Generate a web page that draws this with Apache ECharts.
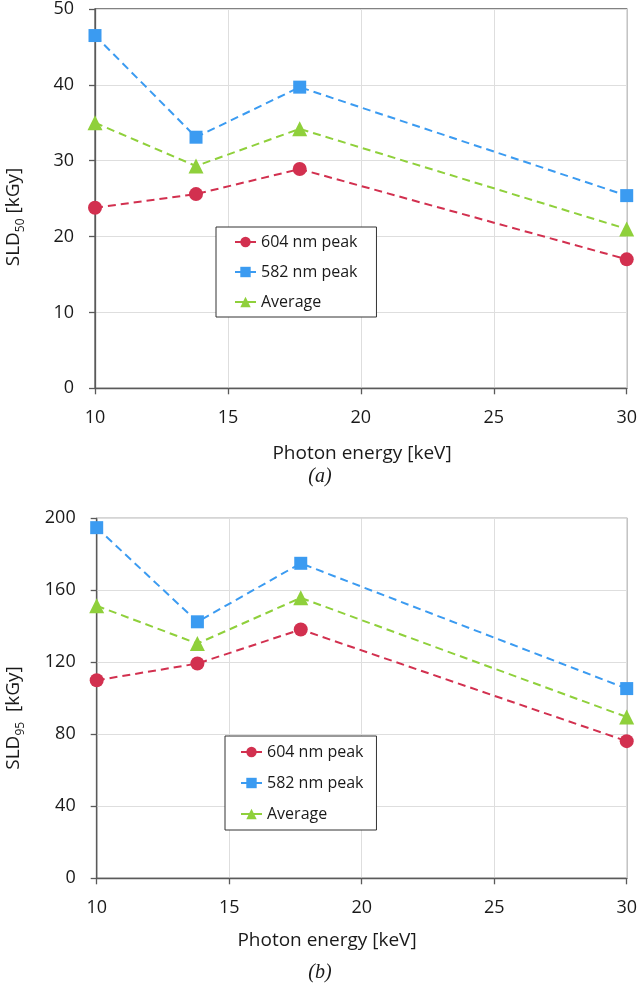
<!DOCTYPE html>
<html>
<head>
<meta charset="utf-8">
<script src="https://cdn.jsdelivr.net/npm/echarts@6/dist/echarts.min.js"></script>
<style>
  html, body { margin: 0; padding: 0; background: #ffffff; }
  #chart { width: 640px; height: 1008px; }
</style>
</head>
<body>
<div id="chart"></div>
<script>
// ---- data ----
const energies = [10, 13.8, 17.7, 30];
const seriesNames = ['604 nm peak', '582 nm peak', 'Average'];
const sld50_604 = [23.8, 25.6, 28.9, 17.0];
const sld50_582 = [46.5, 33.1, 39.7, 25.4];
const sld50_avg = [35.0, 29.3, 34.2, 21.0];
const sld95_604 = [110.0, 119.3, 138.2, 76.2];
const sld95_582 = [194.8, 142.5, 175.0, 105.4];
const sld95_avg = [151.4, 130.4, 155.8, 89.6];
const xTicks = { min: 10, max: 30, interval: 5 };
const y50Ticks = { min: 0, max: 50, interval: 10 };
const y95Ticks = { min: 0, max: 200, interval: 40 };

// ---- styling ----
const colors = ['#d2304f', '#3b9bf1', '#8fd03b'];
const symbols = ['circle', 'rect', 'triangle'];
const symbolSizes = [14, 13, 15];
const FONT = '"Open Sans", "Noto Sans", sans-serif';
const AXIS_COLOR = '#5a5a5a';
const GRID_COLOR = '#dedede';
const TEXT_COLOR = '#1a1a1a';

function pairs(xs, ys) { return xs.map((x, i) => [x, ys[i]]); }

function makeSeries(gridIdx, valueSets) {
  return valueSets.map((vals, i) => ({
    name: seriesNames[i],
    type: 'line',
    xAxisIndex: gridIdx,
    yAxisIndex: gridIdx,
    data: pairs(energies, vals),
    symbol: symbols[i],
    symbolSize: symbolSizes[i],
    itemStyle: { color: colors[i] },
    lineStyle: { color: colors[i], width: 2, type: [8, 5] },
    z: 3 + (2 - i),
    animation: false
  }));
}

function xAxisDef(gridIdx) {
  return {
    type: 'value', gridIndex: gridIdx,
    min: xTicks.min, max: xTicks.max, interval: xTicks.interval,
    axisLine: { show: true, onZero: false, lineStyle: { color: AXIS_COLOR, width: 1.3 } },
    axisTick: { show: true, inside: false, length: 6, lineStyle: { color: AXIS_COLOR, width: 1.3 } },
    axisLabel: { color: TEXT_COLOR, fontSize: 18, fontFamily: FONT, margin: 21 },
    splitLine: { show: true, lineStyle: { color: GRID_COLOR, width: 1 } }
  };
}
function yAxisDef(gridIdx, t) {
  return {
    type: 'value', gridIndex: gridIdx,
    min: t.min, max: t.max, interval: t.interval,
    axisLine: { show: true, onZero: false, lineStyle: { color: AXIS_COLOR, width: 1.3 } },
    axisTick: { show: true, inside: false, length: 6, lineStyle: { color: AXIS_COLOR, width: 1.3 } },
    axisLabel: { color: TEXT_COLOR, fontSize: 18, fontFamily: FONT, margin: 21 },
    splitLine: { show: true, lineStyle: { color: GRID_COLOR, width: 1 } }
  };
}
function legendDef(left, top, padding, itemGap) {
  return {
    orient: 'vertical', left: left, top: top,
    padding: padding, itemGap: itemGap,
    itemWidth: 21, itemHeight: 13,
    backgroundColor: '#ffffff', borderColor: '#333333', borderWidth: 1,
    textStyle: { color: TEXT_COLOR, fontSize: 16, fontFamily: FONT },
    lineStyle: { type: 'solid', width: 2 },
    data: seriesNames
  };
}
function titleText(x, y, text, rotate, extra) {
  return Object.assign({
    type: 'text', x: x, y: y, rotation: rotate ? Math.PI / 2 : 0, silent: true,
    style: {
      text: text, fill: TEXT_COLOR, fontSize: 19, fontFamily: FONT,
      align: 'center', verticalAlign: 'middle',
      rich: { sub: { fontSize: 12, fontFamily: FONT, fill: TEXT_COLOR, padding: [14, 0, 0, 0] } }
    }
  }, extra || {});
}

const option = {
  backgroundColor: '#ffffff',
  animation: false,
  grid: [
    { left: 95, top: 9, width: 533.6, height: 379.3, show: true, borderColor: AXIS_COLOR, borderWidth: 1.3, backgroundColor: 'transparent' },
    { left: 96.7, top: 518.3, width: 531.9, height: 360, show: true, borderColor: AXIS_COLOR, borderWidth: 1.3, backgroundColor: 'transparent' }
  ],
  xAxis: [xAxisDef(0), xAxisDef(1)],
  yAxis: [yAxisDef(0, y50Ticks), yAxisDef(1, y95Ticks)],
  legend: [
    legendDef(216, 227, [7, 19, 7, 18], 14),
    legendDef(225, 736, [8, 13, 8, 15], 15)
  ],
  series: [].concat(
    makeSeries(0, [sld50_604, sld50_582, sld50_avg]),
    makeSeries(1, [sld95_604, sld95_582, sld95_avg])
  ),
  graphic: [
    titleText(14, 217, 'SLD{sub|50} [kGy]', true),
    titleText(14, 718, 'SLD{sub|95}  [kGy]', true),
    titleText(362, 454, 'Photon energy [keV]', false),
    titleText(327, 941, 'Photon energy [keV]', false),
    { type: 'text', x: 320, y: 477, silent: true,
      style: { text: '(a)', fill: TEXT_COLOR, fontSize: 20, fontStyle: 'italic', fontFamily: '"Liberation Serif", "DejaVu Serif", serif', align: 'center', verticalAlign: 'middle' } },
    { type: 'text', x: 320, y: 973, silent: true,
      style: { text: '(b)', fill: TEXT_COLOR, fontSize: 20, fontStyle: 'italic', fontFamily: '"Liberation Serif", "DejaVu Serif", serif', align: 'center', verticalAlign: 'middle' } }
  ]
};

const chart = echarts.init(document.getElementById('chart'), null, { renderer: 'canvas' });
chart.setOption(option);
</script>
</body>
</html>
